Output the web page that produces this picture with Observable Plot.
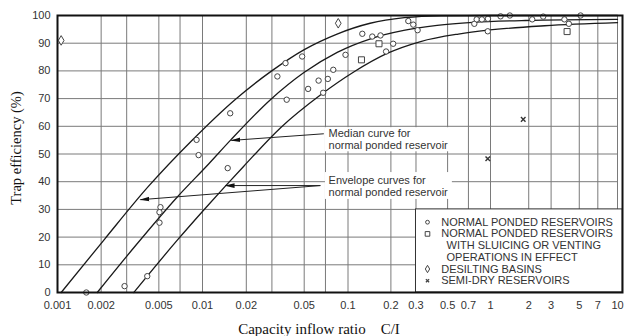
<!DOCTYPE html>
<html><head><meta charset="utf-8">
<script src="https://cdn.jsdelivr.net/npm/d3@7"></script>
<script src="https://cdn.jsdelivr.net/npm/@observablehq/plot@0.6"></script>
<style>
html,body{margin:0;padding:0;background:#fff;}
#chart svg{display:block;}
</style></head><body><div id="chart"></div>
<script>
// ---- axis ticks ----
const xTickValues = [0.001,0.002,0.005,0.01,0.02,0.05,0.1,0.2,0.3,0.5,0.7,1,2,3,5,7,10];
const xGridValues = [0.001,0.002,0.003,0.005,0.007,0.01,0.02,0.03,0.05,0.07,0.1,0.2,0.3,0.5,0.7,1,2,3,5,7,10];
const yTickValues = [0,10,20,30,40,50,60,70,80,90,100];

// ---- curves (C/I, trap efficiency %) ----
const upperCI  = [0.00106,0.002115,0.00422,0.00842,0.0168,0.0299,0.0497,0.0841,0.143,0.2484,0.45,1,10];
const upperTE  = [0,19.3,38.2,54.8,69.7,80,87.6,93.3,97.2,99.2,99.9,100,100];
const medianCI = [0.00188,0.00354,0.00668,0.01102,0.01559,0.0293,0.0498,0.0843,0.1439,0.2463,0.4222,0.7506,1.88,10];
const medianTE = [0,17.6,34.4,46.4,55,69.6,79.4,86.7,91.6,94.6,96.4,97.5,98.2,98.6];
const lowerCI  = [0.00336,0.00668,0.0105,0.01441,0.01922,0.03443,0.06462,0.1097,0.1881,0.3233,0.5956,0.9573,2.668,10];
const lowerTE  = [0,18.8,30.5,38.5,45.6,59.5,71.3,79.6,86.3,90.6,93.3,94.7,96.3,97.4];

// ---- observations ----
const normalCI = [0.00158,0.0029,0.00416,0.00513,0.00505,0.00505,0.0091,0.0094,0.0149,0.0155,0.0327,0.0372,0.0484,0.0379,0.0532,0.0628,0.0727,0.0675,0.0792,0.0961,0.126,0.148,0.169,0.185,0.2075,0.265,0.287,0.308,0.77,0.80,0.87,0.96,0.957,1.2,1.42,2.13,2.6,3.82,4.14,5.12];
const normalTE = [0,2.3,5.9,30.8,29.0,25.2,55.1,49.6,44.9,64.7,78,82.8,85.2,69.6,73.5,76.5,77.1,72.1,80.4,85.8,93.4,92.4,92.8,87,89.8,98,96.7,94.7,97,98.6,98.6,98.8,94.3,99.7,100,98.6,99.6,98.6,97,100];
const sluiceCI = [0.1243,0.165,4.01];
const sluiceTE = [84,89.8,94.2];
const desiltCI = [0.00106,0.0857];
const desiltTE = [91,97.2];
const semiDryCI = [0.957,1.81];
const semiDryTE = [48.3,62.5];

// ---- text ----
const yLabel = "Trap efficiency (%)";
const xLabel = "Capacity inflow ratio\u00a0\u00a0\u00a0\u00a0C/I";
const medianNote = "Median curve for\nnormal ponded reservoir";
const envelopeNote = "Envelope curves for\nnormal ponded reservoir";
const legendSymbols = ["circle","square","diamond","times"];
const legendLabels = [["NORMAL PONDED RESERVOIRS"],["NORMAL PONDED RESERVOIRS","WITH SLUICING OR VENTING","OPERATIONS IN EFFECT"],["DESILTING BASINS"],["SEMI-DRY RESERVOIRS"]];

const pts = (xs, ys) => xs.map((x, i) => ({x, y: ys[i]}));

const tallDiamond = {
  draw(ctx, size) {
    const r = Math.sqrt(size / Math.PI);
    const w = r * 0.95, h = r * 1.6;
    ctx.moveTo(0, -h); ctx.lineTo(w, 0); ctx.lineTo(0, h); ctx.lineTo(-w, 0); ctx.closePath();
  }
};
const symbolFor = s => s === "diamond" ? tallDiamond : s;

const headMarker = () => {
  const m = d3.create("svg:marker")
    .attr("viewBox", "-9 -3 10 6").attr("markerWidth", 10).attr("markerHeight", 6)
    .attr("markerUnits", "userSpaceOnUse").attr("orient", "auto")
    .attr("fill", "#111").attr("stroke", "none");
  m.append("path").attr("d", "M-9,-2.3L1,0L-9,2.3Z");
  return m.node();
};

// annotation anchors (data space)
const arrowLinks = [
  {x1: 0.0682, y1: 57.3, x2: 0.0158, y2: 54.9},
  {x1: 0.0646, y1: 38.6, x2: 0.0144, y2: 38.6},
  {x1: 0.0646, y1: 38.6, x2: 0.00373, y2: 33.5}
];
const noteBoxes = [
  {x1: 0.070, x2: 0.54, y1: 50.8, y2: 59.5},
  {x1: 0.070, x2: 0.54, y1: 33.6, y2: 43.3}
];
const legendBox = [{x1: 0.3, x2: 11, y1: 0, y2: 30}];
const serif = "'Liberation Serif', 'Times New Roman', serif";
const sans = "'Liberation Sans', Arial, sans-serif";
const xMin = xGridValues[0], xMax = xGridValues[xGridValues.length - 1];
const yMin = yTickValues[0], yMax = yTickValues[yTickValues.length - 1];

const marks = [
  // grid drawn as links (paths)
  Plot.link(xGridValues, {x1: d => d, x2: d => d, y1: () => yMin, y2: () => yMax, stroke: "#7a7a7a", strokeWidth: 1}),
  Plot.link(yTickValues, {x1: () => xMin, x2: () => xMax, y1: d => d, y2: d => d, stroke: "#7a7a7a", strokeWidth: 1}),
  Plot.rect(noteBoxes, {x1: "x1", x2: "x2", y1: "y1", y2: "y2", fill: "white"}),
  Plot.rect(legendBox, {x1: "x1", x2: "x2", y1: "y1", y2: "y2", fill: "white", stroke: "#333", strokeWidth: 1}),
  Plot.line(pts(upperCI, upperTE), {x: "x", y: "y", stroke: "#1a1a1a", strokeWidth: 1.3, curve: "monotone-x"}),
  Plot.line(pts(medianCI, medianTE), {x: "x", y: "y", stroke: "#1a1a1a", strokeWidth: 1.3, curve: "monotone-x"}),
  Plot.line(pts(lowerCI, lowerTE), {x: "x", y: "y", stroke: "#1a1a1a", strokeWidth: 1.3, curve: "monotone-x"}),
  Plot.dot(pts(normalCI, normalTE), {x: "x", y: "y", symbol: "circle", r: 2.7, stroke: "#444", fill: "white", strokeWidth: 1}),
  Plot.dot(pts(sluiceCI, sluiceTE), {x: "x", y: "y", symbol: "square", r: 3.4, stroke: "#444", fill: "white", strokeWidth: 1}),
  Plot.dot(pts(desiltCI, desiltTE), {x: "x", y: "y", symbol: tallDiamond, r: 3, stroke: "#444", fill: "white", strokeWidth: 1}),
  Plot.dot(pts(semiDryCI, semiDryTE), {x: "x", y: "y", symbol: "times", r: 2.2, stroke: "#333", strokeWidth: 1.4}),
  Plot.link(arrowLinks, {x1: "x1", y1: "y1", x2: "x2", y2: "y2", stroke: "#222", strokeWidth: 1, markerEnd: headMarker}),
  Plot.text([medianNote], {x: () => 0.0735, y: () => 55.2, textAnchor: "start", lineAnchor: "middle", lineHeight: 1.08, fontSize: 11, fontFamily: sans, fill: "#333"}),
  Plot.text([envelopeNote], {x: () => 0.0735, y: () => 38.3, textAnchor: "start", lineAnchor: "middle", lineHeight: 1.1, fontSize: 11, fontFamily: sans, fill: "#333"}),
  Plot.text([yLabel], {frameAnchor: "left", rotate: -90, textAnchor: "middle", lineAnchor: "middle", dx: -41, dy: -6, fontFamily: serif, fontSize: 14.5, fill: "#111"}),
  Plot.text([xLabel], {frameAnchor: "bottom", textAnchor: "middle", lineAnchor: "middle", dx: -21, dy: 37, fontFamily: serif, fontSize: 15, fill: "#111"}),
  Plot.text(xTickValues, {x: d => d, frameAnchor: "bottom", dy: 13, text: d => String(d), textAnchor: "middle", lineAnchor: "middle", fontSize: 11, fontFamily: sans, fill: "#333"}),
  Plot.text(yTickValues, {y: d => d, frameAnchor: "left", dx: -7, text: d => String(d), textAnchor: "end", lineAnchor: "middle", fontSize: 11, fontFamily: sans, fill: "#333"})
];
// legend rows, laid out from the frame's bottom-right corner
let row = 0;
const rowStep = 11.7, firstRow = -70.3;
legendSymbols.forEach((s, i) => {
  const dy = firstRow + row * rowStep;
  const rr = s === "square" ? 2.6 : s === "circle" ? 1.9 : s === "times" ? 1.6 : 2.3;
  marks.push(Plot.dot([s], {frameAnchor: "bottom-right", dx: -195, dy, symbol: symbolFor(s), r: rr, stroke: "#444", fill: s === "times" ? "none" : "white", strokeWidth: s === "times" ? 1.3 : 1}));
  legendLabels[i].forEach((t, j) => {
    marks.push(Plot.text([t], {frameAnchor: "bottom-right", dx: j === 0 ? -181.3 : -176, dy: firstRow + row * rowStep, textAnchor: "start", lineAnchor: "middle", fontSize: 11, fontFamily: sans, fill: "#333"}));
    row++;
  });
});
marks.push(Plot.frame({stroke: "#111", strokeWidth: 2}));

const chart = Plot.plot({
  width: 625, height: 336,
  marginLeft: 57, marginRight: 3, marginTop: 15, marginBottom: 44,
  style: {fontFamily: sans, fontSize: "11px", color: "#333", background: "#fff"},
  x: {type: "log", domain: [0.001, 0.01, 0.1, 1, 10], range: [57, 202, 347.5, 490, 617], axis: null},
  y: {domain: [0, 100], axis: null},
  marks
});
document.getElementById("chart").append(chart);
</script>
</body></html>
